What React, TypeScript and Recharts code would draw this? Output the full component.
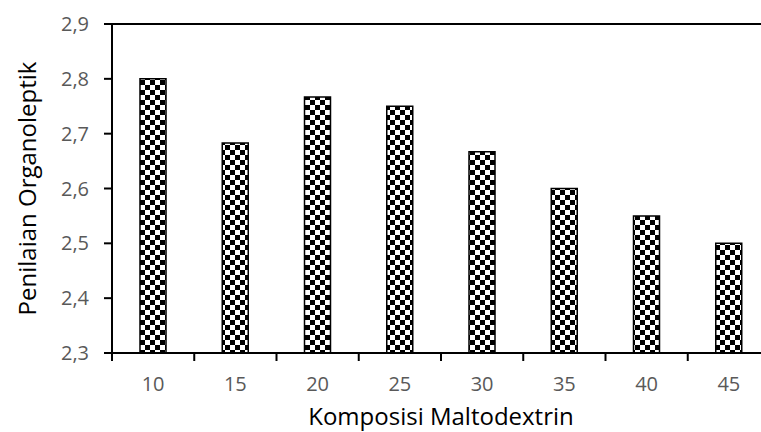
import React from 'react';
import { BarChart, Bar, XAxis, YAxis, ReferenceLine } from 'recharts';

const categories = ['10', '15', '20', '25', '30', '35', '40', '45'];
const scores = [2.8, 2.683, 2.767, 2.75, 2.667, 2.6, 2.55, 2.5];
const yTicks = [2.3, 2.4, 2.5, 2.6, 2.7, 2.8, 2.9];

const data = categories.map((c, i) => ({ name: c, value: scores[i] }));

const FONT = '"Open Sans", "Liberation Sans", sans-serif';
const BAND = 82.25;

const XTick = (props: any) => {
  const { x, y, payload } = props;
  return (
    <g>
      <line x1={x - BAND / 2} x2={x - BAND / 2} y1={y - 8} y2={y} stroke="#000" strokeWidth={2} />
      <text x={x} y={y + 30} textAnchor="middle" fill="#595959" fontSize={20} fontFamily={FONT}>
        {payload.value}
      </text>
    </g>
  );
};

const App: React.FC = () => {
  return (
    <div style={{ position: 'absolute', left: 0, top: 0, width: 761, height: 432, overflow: 'hidden', background: '#fff' }}>
      <BarChart width={790} height={432} data={data} margin={{ top: 24, right: 20, left: 52, bottom: 29 }}>
        <defs>
          <pattern id="checker" patternUnits="userSpaceOnUse" width={10} height={10}>
            <rect x={0} y={0} width={10} height={10} fill="#fff" />
            <rect x={0} y={0} width={5} height={5} fill="#000" />
            <rect x={5} y={5} width={5} height={5} fill="#000" />
          </pattern>
        </defs>
        <XAxis
          dataKey="name"
          axisLine={{ stroke: '#000', strokeWidth: 2 }}
          tickLine={false}
          tick={<XTick />}
          height={50}
          label={{ value: 'Komposisi Maltodextrin', position: 'insideBottom', offset: -22, fill: '#000', fontSize: 24, fontFamily: FONT }}
        />
        <YAxis
          domain={[2.3, 2.9]}
          ticks={yTicks}
          width={60}
          axisLine={{ stroke: '#000', strokeWidth: 2 }}
          tickLine={{ stroke: '#000', strokeWidth: 2 }}
          tickSize={8}
          tickMargin={15}
          tickFormatter={(v: number) => v.toFixed(1).replace('.', ',')}
          tick={{ fill: '#595959', fontSize: 20, fontFamily: FONT }}
          label={{ value: 'Penilaian Organoleptik', angle: -90, position: 'center', dx: -55, fill: '#000', fontSize: 24, fontFamily: FONT }}
        />
        <ReferenceLine y={2.9} stroke="#000" strokeWidth={2} />
        <Bar dataKey="value" fill="url(#checker)" stroke="#000" strokeWidth={1.5} barSize={26} isAnimationActive={false} />
      </BarChart>
    </div>
  );
};

export default App;
